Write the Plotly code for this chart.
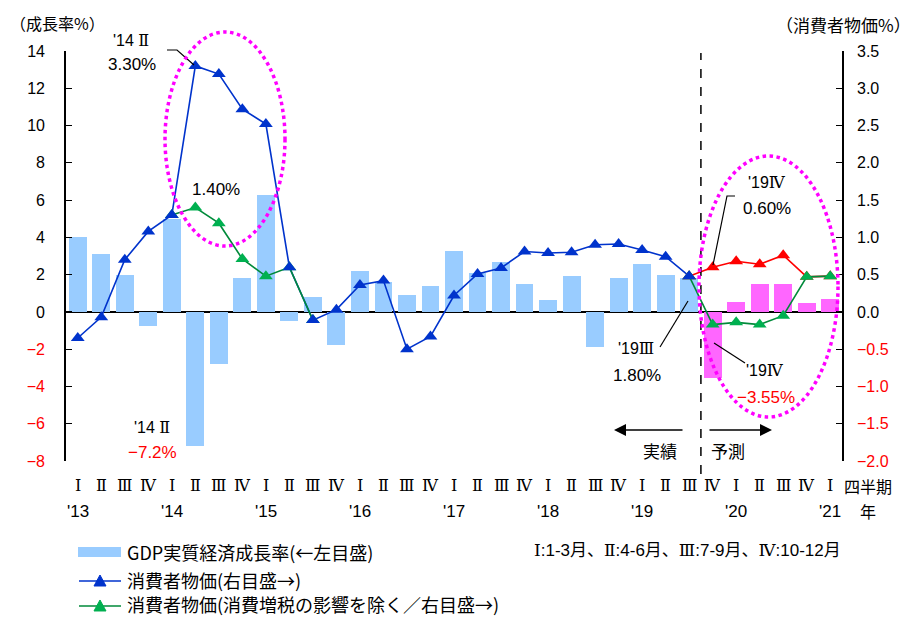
import plotly.graph_objects as go

# ---------------- data ----------------
quarters = ["Ⅰ", "Ⅱ", "Ⅲ", "Ⅳ"] * 8 + ["Ⅰ"]
years = ["'13", "'14", "'15", "'16", "'17", "'18", "'19", "'20", "'21"]

# Real GDP growth rate (annualised q/q, %), 2013Q1 .. 2021Q1
gdp_growth = [4.0, 3.1, 2.0, -0.73, 5.0, -7.2, -2.77, 1.84, 6.28, -0.47, 0.80, -1.75,
              2.17, 1.58, 0.89, 1.39, 3.29, 2.09, 2.69, 1.50, 0.64, 1.93, -1.90, 1.84,
              2.59, 2.0, 1.8, -3.55, 0.53, 1.51, 1.51, 0.49, 0.70]
n_actual = 27  # 2013Q1 .. 2019Q3 are results, the rest is forecast

# Consumer prices (y/y, %), results
cpi = [-0.35, -0.07, 0.70, 1.08, 1.30, 3.30, 3.19, 2.72, 2.52, 0.60, -0.11, 0.03,
       0.36, 0.42, -0.50, -0.33, 0.22, 0.51, 0.59, 0.81, 0.79, 0.80, 0.90, 0.91,
       0.83, 0.74, 0.48] + [None] * 6

# Consumer prices, forecast
cpi_forecast = [None] * 26 + [0.48, 0.60, 0.68, 0.64, 0.76, 0.47, 0.48]

# Consumer prices excluding the consumption-tax hike
cpi_ex_tax = ([None] * 4 + [1.30, 1.40, 1.19, 0.71, 0.48, 0.60, -0.11]
              + [None] * 15 + [0.48, -0.17, -0.14, -0.17, -0.05, 0.47, 0.48])

x_idx = list(range(len(gdp_growth)))

# ---------------- style ----------------
BLUE_BAR = "#99CCFF"
PINK_BAR = "#FF66FF"
BLUE = "#0033CC"
GREEN_MK = "#00B050"
GREEN_LN = "#008A3A"
RED = "#FF0000"
FONT = "Liberation Sans, DejaVu Serif, Noto Sans CJK JP, sans-serif"
JFONT = "Noto Sans CJK JP, sans-serif"
ROMAN = "DejaVu Serif, Noto Sans CJK JP, serif"
NOTE = "Liberation Sans, DejaVu Serif, Noto Sans CJK JP, sans-serif"

# plot area in pixels
L, R, T, B = 66, 842, 51, 461
W_PX, H_PX = 910, 617


def px(x):
    return (x - L) / (R - L)


def py(y):
    return (B - y) / (B - T)


fig = go.Figure()

bar_colors = [BLUE_BAR if i < n_actual else PINK_BAR for i in x_idx]
fig.add_trace(go.Bar(x=x_idx, y=gdp_growth, marker=dict(color=bar_colors, line=dict(width=0)),
                     width=0.76, yaxis="y", showlegend=False))

# CPI results: line first, markers on top of everything later
fig.add_trace(go.Scatter(x=x_idx, y=cpi, mode="lines", line=dict(color=BLUE, width=1.6),
                         yaxis="y2", showlegend=False, connectgaps=False))
fig.add_trace(go.Scatter(x=x_idx, y=cpi_forecast, mode="lines+markers",
                         line=dict(color=RED, width=1.6),
                         marker=dict(symbol="triangle-up", size=12, color=RED),
                         yaxis="y2", showlegend=False))
fig.add_trace(go.Scatter(x=x_idx, y=cpi_ex_tax, mode="lines+markers",
                         line=dict(color=GREEN_LN, width=1.6),
                         marker=dict(symbol="triangle-up", size=12, color=GREEN_MK),
                         yaxis="y2", showlegend=False))
fig.add_trace(go.Scatter(x=x_idx, y=cpi, mode="markers",
                         marker=dict(symbol="triangle-up", size=12, color=BLUE),
                         yaxis="y2", showlegend=False))

# ---------------- axes ----------------
left_vals = list(range(-8, 15, 2))
left_text = [f"<span style='color:red'>−{abs(v)}</span>" if v < 0 else str(v) for v in left_vals]
right_vals = [v / 2 for v in range(-4, 8)]
right_text = [f"<span style='color:red'>−{abs(v):.1f}</span>" if v < 0 else f"{v:.1f}" for v in right_vals]

fig.update_layout(
    width=W_PX, height=H_PX,
    margin=dict(l=L, r=W_PX - R, t=T, b=H_PX - B, pad=0),
    plot_bgcolor="white", paper_bgcolor="white",
    font=dict(family=FONT, size=15, color="black"),
    bargap=0,
    xaxis=dict(range=[-0.5, len(x_idx) - 0.5], showticklabels=False, showgrid=False,
               zeroline=False, showline=False, ticks=""),
    yaxis=dict(range=[-8, 14], tickvals=left_vals, ticktext=left_text, showgrid=False,
               zeroline=True, zerolinecolor="black", zerolinewidth=1.6,
               showline=True, linecolor="black", linewidth=1.6,
               ticks="inside", ticklen=6, tickwidth=1.3, tickcolor="black",
               ticklabelstandoff=16, tickfont=dict(size=16)),
    yaxis2=dict(range=[-2, 3.5], tickvals=right_vals, ticktext=right_text, overlaying="y",
                side="right", showgrid=False, zeroline=False,
                showline=True, linecolor="black", linewidth=1.6,
                ticks="inside", ticklen=6, tickwidth=1.3, tickcolor="black",
                ticklabelstandoff=10, tickfont=dict(size=16)),
    showlegend=False,
)

annotations = []
shapes = []


def text(x, y, s, color="black", size=15, family=FONT, xanchor="center"):
    annotations.append(dict(x=px(x), y=py(y), xref="paper", yref="paper", text=s,
                            showarrow=False, xanchor=xanchor, yanchor="middle",
                            font=dict(color=color, size=size, family=family)))


# quarter and year labels under the axis
for i, q in enumerate(quarters):
    annotations.append(dict(x=i, y=py(485), xref="x", yref="paper", text=q, showarrow=False,
                            xanchor="center", yanchor="middle",
                            font=dict(size=16, family=ROMAN)))
for k, yr in enumerate(years):
    annotations.append(dict(x=4 * k, y=py(511), xref="x", yref="paper", text=yr, showarrow=False,
                            xanchor="center", yanchor="middle", font=dict(size=17)))
text(868, 486, "四半期", size=16, family=JFONT)
text(868, 511, "年", size=16, family=JFONT)

# axis titles
text(57, 23, "（成長率%）", size=16, family=JFONT)
text(843, 25, "（消費者物価%）", size=17, family=JFONT)

# callouts
text(131, 41, "'14 Ⅱ", size=16)
text(132, 64, "3.30%", size=17)
text(216, 189, "1.40%", size=17)
text(152, 427, "'14 Ⅱ", size=16)
text(152, 452, "−7.2%", color=RED, size=17)
text(636, 348, "'19Ⅲ", size=16)
text(637, 375, "1.80%", size=17)
text(765, 370, "'19Ⅳ", size=16)
text(766, 397, "−3.55%", color=RED, size=17)
text(767, 183, "'19Ⅳ", size=16)
text(767, 208, "0.60%", size=17)
text(660, 450, "実績", size=17, family=JFONT)
text(728, 450, "予測", size=17, family=JFONT)


def path(points, color="black", width=1.2):
    d = "M " + " L ".join(f"{px(a):.5f},{py(b):.5f}" for a, b in points)
    shapes.append(dict(type="path", path=d, xref="paper", yref="paper",
                       line=dict(color=color, width=width)))


path([(167, 50), (177, 50), (194, 65)])
path([(660, 347), (688, 301)])
path([(745, 363), (714, 343)])
path([(735, 196), (727, 196), (713, 265)])

# results / forecast arrows
annotations.append(dict(x=px(614), y=py(430), xref="paper", yref="paper", ax=70, ay=0,
                        text="", showarrow=True, arrowhead=2, arrowsize=1.6, arrowwidth=1.5,
                        arrowcolor="black", standoff=0))
annotations.append(dict(x=px(772), y=py(430), xref="paper", yref="paper", ax=-64, ay=0,
                        text="", showarrow=True, arrowhead=2, arrowsize=1.6, arrowwidth=1.5,
                        arrowcolor="black", standoff=0))

# boundary between results and forecast
shapes.append(dict(type="line", xref="x", yref="paper", x0=n_actual - 0.5, x1=n_actual - 0.5,
                   y0=py(474), y1=py(53), line=dict(color="black", width=1.5, dash="dash")))

# highlight ellipses
shapes.append(dict(type="circle", xref="paper", yref="paper",
                   x0=px(165), x1=px(285), y0=py(246), y1=py(32),
                   line=dict(color="#FF00FF", width=3.5, dash="dot")))
shapes.append(dict(type="circle", xref="paper", yref="paper",
                   x0=px(699), x1=px(838), y0=py(417), y1=py(156),
                   line=dict(color="#FF00FF", width=3.5, dash="dot")))

# legend
shapes.append(dict(type="rect", xref="paper", yref="paper", x0=px(78), x1=px(121),
                   y0=py(557), y1=py(547), fillcolor=BLUE_BAR, line=dict(width=0)))
for yy, lc, mc in [(581, BLUE, BLUE), (606, GREEN_LN, GREEN_MK)]:
    path([(79, yy), (121, yy)], color=lc, width=1.6)
    tri = f"M {px(100):.5f},{py(yy - 6):.5f} L {px(94):.5f},{py(yy + 5):.5f} L {px(106):.5f},{py(yy + 5):.5f} Z"
    shapes.append(dict(type="path", path=tri, xref="paper", yref="paper",
                       fillcolor=mc, line=dict(color=mc, width=1)))
text(125, 552, "GDP実質経済成長率(←左目盛)", size=18, family=JFONT, xanchor="left")
text(125, 580, "消費者物価(右目盛→)", size=18, family=JFONT, xanchor="left")
text(125, 604, "消費者物価(消費増税の影響を除く／右目盛→)", size=18, family=JFONT, xanchor="left")
text(687, 550, "Ⅰ:1-3月、Ⅱ:4-6月、Ⅲ:7-9月、Ⅳ:10-12月", size=17, family=NOTE)

fig.update_layout(annotations=annotations, shapes=shapes)

fig.write_html("out.html")
